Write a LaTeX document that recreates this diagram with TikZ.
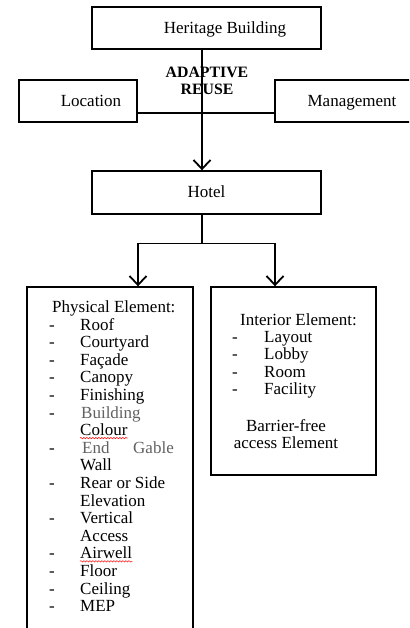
\documentclass[tikz,border=0pt]{standalone}
\usepackage{fontspec}
\setmainfont{Liberation Serif}
\usetikzlibrary{arrows.meta,decorations.pathmorphing}
\begin{document}
\begin{tikzpicture}[x=1pt,y=-1pt,
 box/.style={draw, line width=1.4pt, inner sep=0pt, text height=12pt, text depth=1pt, font=\fontsize{17}{20}\selectfont},
 txt/.style={anchor=base west, inner sep=0pt, font=\fontsize{17}{20}\selectfont},
 grytxt/.style={txt, text=black!62},
 conn/.style={line width=1.5pt},
 arr/.style={conn, -{Straight Barb[length=9pt,width=17pt,line width=1.8pt]}},
 spell/.style={red, line width=0.5pt, decorate, decoration={snake,amplitude=0.7pt,segment length=3pt}}]
\useasboundingbox (0,0) rectangle (409,628);
\clip (0,0) rectangle (409,628);

% top boxes
\node[box, minimum width=229pt, minimum height=42pt] (her) at (206.5,28) {\hspace*{37pt}Heritage Building};
\node[box, minimum width=118pt, minimum height=42pt] (loc) at (78,101) {\hspace*{26pt}Location};
\node[box, minimum width=145pt, minimum height=42pt] (mgt) at (347.5,101) {\hspace*{9pt}Management};
\node[box, minimum width=229pt, minimum height=43pt] (hotel) at (206.5,192.5) {Hotel};

% lower boxes
\node[box, minimum width=166pt, minimum height=353pt] (phys) at (110,463.5) {};
\node[box, minimum width=165pt, minimum height=188pt] (intr) at (293.5,381) {};

% connectors
\draw[arr] ([xshift=-4.5pt]her.south) -- ([xshift=-4.5pt]hotel.north);
\draw[conn] ([yshift=-12pt]loc.east) -- ([yshift=-12pt]mgt.west);
\node[inner sep=0pt, align=center, font=\fontsize{15.8}{17}\selectfont\bfseries] (ar) at (207,81) {ADAPTIVE\\REUSE};

\draw[conn] ([xshift=-4.5pt]hotel.south) -- ++(0,29) coordinate (split);
\draw[arr] (split) -| ([xshift=28pt]phys.north);
\draw[arr] (split) -| ([xshift=-18.5pt]intr.north);

% physical element text
\node[txt] (ph) at (52,312) {Physical Element:};
\node[txt] (d1) at (49,330) {-};     \node[txt] (p1) at (80,330) {Roof};
\node[txt] (d2) at (49,347.6) {-};   \node[txt] (p2) at (80,347.6) {Courtyard};
\node[txt] (d3) at (49,365.2) {-};   \node[txt] (p3) at (80,365.2) {Façade};
\node[txt] (d4) at (49,382.8) {-};   \node[txt] (p4) at (80,382.8) {Canopy};
\node[txt] (d5) at (49,400.4) {-};   \node[txt] (p5) at (80,400.4) {Finishing};
\node[txt] (d6) at (49,418) {-};     \node[grytxt] (p6) at (81,418) {Building};
\node[txt] (p6b) at (80,435.6) {Colour};
\node[txt] (d7) at (49,453.2) {-};   \node[grytxt] (p7) at (82,453.2) {End};
\node[grytxt, anchor=base east] (p7g) at (174,453.2) {Gable};
\node[txt] (p7b) at (80,470.8) {Wall};
\node[txt] (d8) at (49,488.4) {-};   \node[txt] (p8) at (80,488.4) {Rear or Side};
\node[txt] (p8b) at (80,506) {Elevation};
\node[txt] (d9) at (49,523.6) {-};   \node[txt] (p9) at (80,523.6) {Vertical};
\node[txt] (p9b) at (80,541.2) {Access};
\node[txt] (d10) at (49,558.8) {-};  \node[txt] (p10) at (80,558.8) {Airwell};
\node[txt] (d11) at (49,576.4) {-};  \node[txt] (p11) at (80,576.4) {Floor};
\node[txt] (d12) at (49,594) {-};    \node[txt] (p12) at (80,594) {Ceiling};
\node[txt] (d13) at (49,611.6) {-};  \node[txt] (p13) at (80,611.6) {MEP};
\draw[spell] ([yshift=-2.5pt]p6b.base west) -- ([yshift=-2.5pt]p6b.base east);
\draw[spell] ([yshift=-2.5pt]p10.base west) -- ([yshift=-2.5pt]p10.base east);

% interior element text
\node[txt] (ih) at (240,325) {Interior Element:};
\node[txt] (e1) at (232,342) {-};    \node[txt] (i1) at (264,342) {Layout};
\node[txt] (e2) at (232,359.5) {-};  \node[txt] (i2) at (264,359.5) {Lobby};
\node[txt] (e3) at (232,377) {-};    \node[txt] (i3) at (264,377) {Room};
\node[txt] (e4) at (232,394.5) {-};  \node[txt] (i4) at (264,394.5) {Facility};
\node[txt, anchor=base] (b1) at (286,431) {Barrier-free};
\node[txt, anchor=base] (b2) at (286,448) {access Element};
\end{tikzpicture}
\end{document}
